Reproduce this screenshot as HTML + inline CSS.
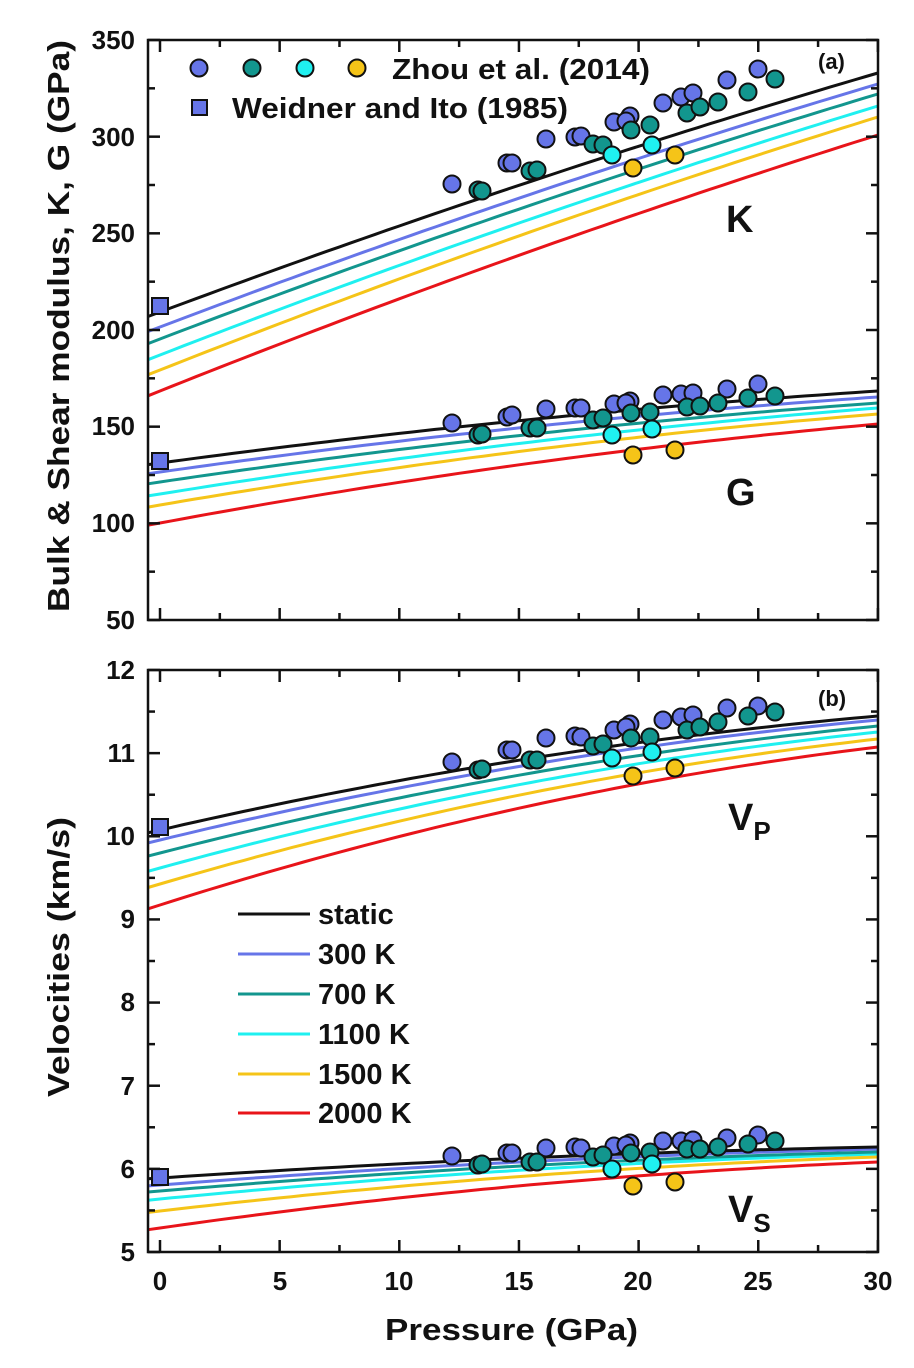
<!DOCTYPE html>
<html><head><meta charset="utf-8"><style>
body{margin:0;background:#fff}
svg{display:block}
text{font-family:"Liberation Sans",Arial,sans-serif;font-weight:bold;fill:#111}
</style></head><body>
<svg id="s" width="914" height="1368" viewBox="0 0 914 1368" xmlns="http://www.w3.org/2000/svg">
<g id="curves" fill="none" stroke-width="3"></g>
<g id="pts" stroke="#111" stroke-width="2"></g>
<g id="ticks" stroke="#111" stroke-width="2.5"></g>
<rect x="148" y="40" width="730" height="580" fill="none" stroke="#111" stroke-width="2.5"/>
<rect x="148" y="670" width="730" height="582" fill="none" stroke="#111" stroke-width="2.5"/>
<g font-size="26" text-anchor="end">
<text x="135" y="49">350</text><text x="135" y="146">300</text><text x="135" y="242">250</text><text x="135" y="339">200</text><text x="135" y="435">150</text><text x="135" y="532">100</text><text x="135" y="629">50</text>
<text x="135" y="679">12</text><text x="135" y="762">11</text><text x="135" y="845">10</text><text x="135" y="928">9</text><text x="135" y="1011">8</text><text x="135" y="1095">7</text><text x="135" y="1178">6</text><text x="135" y="1261">5</text>
</g>
<g font-size="26" text-anchor="middle">
<text x="160" y="1290">0</text><text x="280" y="1290">5</text><text x="399" y="1290">10</text><text x="519" y="1290">15</text><text x="638" y="1290">20</text><text x="758" y="1290">25</text><text x="878" y="1290">30</text>
</g>
<text x="385" y="1340" font-size="31" textLength="253" lengthAdjust="spacingAndGlyphs">Pressure (GPa)</text>
<text transform="translate(69,612) rotate(-90)" font-size="31" textLength="572" lengthAdjust="spacingAndGlyphs">Bulk &amp; Shear modulus, K, G (GPa)</text>
<text transform="translate(69,1097) rotate(-90)" font-size="31" textLength="280" lengthAdjust="spacingAndGlyphs">Velocities (km/s)</text>
<text x="818" y="69" font-size="22">(a)</text>
<text x="818" y="706" font-size="22">(b)</text>
<text x="726" y="232" font-size="38">K</text>
<text x="726" y="505" font-size="38">G</text>
<text x="728" y="830" font-size="38">V<tspan font-size="26" dy="10">P</tspan></text>
<text x="728" y="1222" font-size="38">V<tspan font-size="26" dy="10">S</tspan></text>
<g stroke="#111" stroke-width="2">
<circle cx="199" cy="68" r="8.5" fill="#6675e8"/><circle cx="252" cy="68" r="8.5" fill="#12968e"/><circle cx="305" cy="68" r="8.5" fill="#1ff0f0"/><circle cx="357" cy="68" r="8.5" fill="#f5c418"/>
<rect x="192" y="100" width="15" height="15" fill="#6675e8"/>
</g>
<text x="392" y="79" font-size="29" textLength="258" lengthAdjust="spacingAndGlyphs">Zhou et al. (2014)</text>
<text x="232" y="118" font-size="29" textLength="336" lengthAdjust="spacingAndGlyphs">Weidner and Ito (1985)</text>
<g stroke-width="3">
<line x1="238" y1="914" x2="310" y2="914" stroke="#111"/>
<line x1="238" y1="954" x2="310" y2="954" stroke="#6675e8"/>
<line x1="238" y1="994" x2="310" y2="994" stroke="#12968e"/>
<line x1="238" y1="1034" x2="310" y2="1034" stroke="#1ff0f0"/>
<line x1="238" y1="1074" x2="310" y2="1074" stroke="#f5c418"/>
<line x1="238" y1="1113" x2="310" y2="1113" stroke="#e8141a"/>
</g>
<g font-size="29">
<text x="318" y="924">static</text><text x="318" y="964">300 K</text><text x="318" y="1004">700 K</text><text x="318" y="1044">1100 K</text><text x="318" y="1084">1500 K</text><text x="318" y="1123">2000 K</text>
</g>
</svg>
<script>
var NS="http://www.w3.org/2000/svg";
function el(p,n,a){var e=document.createElementNS(NS,n);for(var k in a)e.setAttribute(k,a[k]);document.getElementById(p).appendChild(e);}
var cols=["#111","#6675e8","#12968e","#1ff0f0","#f5c418","#e8141a"];
function X(P){return 160+P*23.93;}
var groups=[
 {c:0.12,a:[312,327,339,355,370,391],b:[73,84,94,106,117,135]},
 {c:0.35,a:[463,472,482,494,505,523],b:[391,397,403,408,414,424]},
 {c:0.45,a:[830,840,853,868,884,905],b:[716,720,726,732,739,747]},
 {c:0.55,a:[1178,1185,1191,1199,1211,1228],b:[1147,1149,1152,1154,1157,1162]}];
groups.forEach(function(g){for(var i=5;i>=0;i--){var d="";for(var P=-0.5;P<=30.01;P+=0.5){var t=P/30;var f=(1-g.c)*t+g.c*(1-(1-t)*(1-t));var y=g.a[i]+(g.b[i]-g.a[i])*f;d+=(d?"L":"M")+X(P).toFixed(1)+","+y.toFixed(1);}el("curves","path",{d:d,stroke:cols[i]});}});
var BX=[452,507,512,546,575,581,614,630,626,663,681,693,727,758],TX=[478,482,530,537,593,603,631,650,687,700,718,748,775];
var sets=[
 {b:[184,163,163,139,137,136,122,116,121,103,97,93,80,69],t:[190,191,171,170,144,145,130,125,113,107,102,92,79],c:[155,145],y:[168,155],sq:306},
 {b:[423,417,415,409,408,408,404,401,403,395,394,393,389,384],t:[435,434,428,428,420,418,413,412,407,406,403,398,396],c:[435,429],y:[455,450],sq:461},
 {b:[762,750,750,738,736,737,730,724,727,720,717,715,708,706],t:[770,769,760,760,746,744,738,737,730,727,722,716,712],c:[758,752],y:[776,768],sq:827},
 {b:[1156,1153,1153,1148,1147,1148,1146,1143,1145,1141,1141,1140,1138,1135],t:[1165,1164,1162,1162,1157,1155,1153,1152,1149,1149,1147,1144,1141],c:[1169,1164],y:[1186,1182],sq:1177}];
sets.forEach(function(s){
 s.b.forEach(function(y,i){el("pts","circle",{cx:BX[i],cy:y,r:8.5,fill:"#6675e8"});});
 s.t.forEach(function(y,i){el("pts","circle",{cx:TX[i],cy:y,r:8.5,fill:"#12968e"});});
 s.c.forEach(function(y,i){el("pts","circle",{cx:[612,652][i],cy:y,r:8.5,fill:"#1ff0f0"});});
 s.y.forEach(function(y,i){el("pts","circle",{cx:[633,675][i],cy:y,r:8.5,fill:"#f5c418"});});
 el("pts","rect",{x:152,y:s.sq-8,width:16,height:16,fill:"#6675e8"});
});
[[40,620],[670,1252]].forEach(function(p){
 for(var k=0;k<=12;k++){var x=160+k*2.5*23.93;if(x>878)break;var L=k%2?7:12;
  el("ticks","line",{x1:x,y1:p[1],x2:x,y2:p[1]-L});el("ticks","line",{x1:x,y1:p[0],x2:x,y2:p[0]+L});}
});
for(var k=0;k<=12;k++){var y=40+k*580/12;var L=k%2?7:12;el("ticks","line",{x1:148,y1:y,x2:148+L,y2:y});el("ticks","line",{x1:878,y1:y,x2:878-L,y2:y});}
for(var k=0;k<=14;k++){var y=670+k*582/14;var L=k%2?7:12;el("ticks","line",{x1:148,y1:y,x2:148+L,y2:y});el("ticks","line",{x1:878,y1:y,x2:878-L,y2:y});}
</script>
</body></html>
